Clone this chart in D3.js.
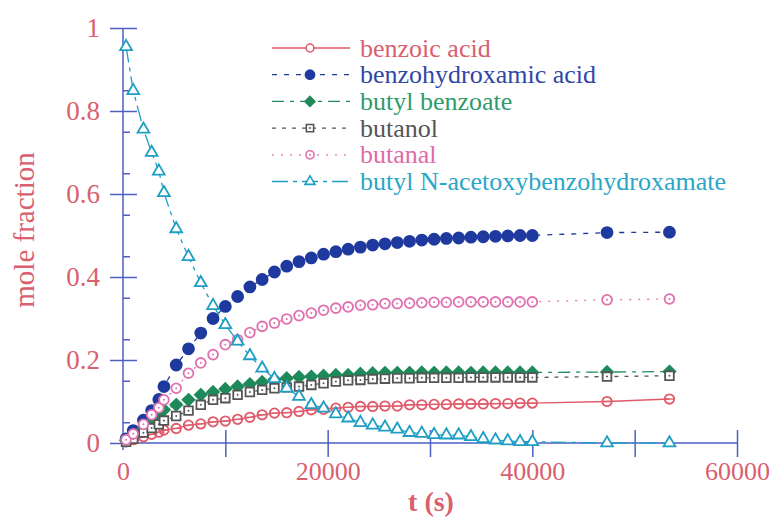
<!DOCTYPE html>
<html>
<head>
<meta charset="utf-8">
<script src="https://cdn.jsdelivr.net/npm/d3@7"></script>
<style>
  body { margin: 0; background: #fff; }
  svg { display: block; font-family: "Liberation Serif", "Times New Roman", serif; }
</style>
</head>
<body>
<svg id="chart" width="774" height="524"></svg>
<script>
// time points (s)
const times = [300, 1000, 2000, 2800, 3500, 4000, 5200, 6400, 7600, 8800, 10000, 11200, 12400,
  13600, 14800, 16000, 17200, 18400, 19600, 20800, 22000, 23200, 24400, 25600, 26800, 28000,
  29200, 30400, 31600, 32800, 34000, 35200, 36400, 37600, 38800, 40000, 47300, 53400];

// mole fractions
const benzoicAcid = [0.003, 0.008, 0.015, 0.021, 0.026, 0.031, 0.035, 0.043, 0.046, 0.051, 0.053,
  0.057, 0.062, 0.068, 0.072, 0.073, 0.076, 0.080, 0.081, 0.084, 0.086, 0.088, 0.088, 0.089, 0.089,
  0.092, 0.092, 0.093, 0.093, 0.094, 0.094, 0.094, 0.095, 0.095, 0.096, 0.096, 0.100, 0.106];
const benzohydroxamicAcid = [0.010, 0.030, 0.055, 0.078, 0.105, 0.136, 0.188, 0.227, 0.265, 0.300,
  0.329, 0.353, 0.376, 0.394, 0.412, 0.426, 0.437, 0.446, 0.455, 0.461, 0.467, 0.472, 0.477, 0.480,
  0.483, 0.486, 0.489, 0.491, 0.493, 0.494, 0.496, 0.497, 0.498, 0.499, 0.500, 0.500, 0.507, 0.508];
const butylBenzoate = [0.006, 0.018, 0.035, 0.050, 0.065, 0.080, 0.092, 0.104, 0.116, 0.123, 0.130,
  0.136, 0.142, 0.147, 0.153, 0.156, 0.159, 0.160, 0.162, 0.164, 0.164, 0.167, 0.168, 0.169, 0.169,
  0.169, 0.170, 0.169, 0.170, 0.170, 0.169, 0.170, 0.170, 0.170, 0.170, 0.170, 0.171, 0.172];
const butanol = [0.003, 0.010, 0.025, 0.036, 0.045, 0.054, 0.065, 0.078, 0.092, 0.104, 0.108, 0.116,
  0.123, 0.128, 0.132, 0.134, 0.136, 0.140, 0.144, 0.148, 0.151, 0.152, 0.154, 0.155, 0.156, 0.156,
  0.157, 0.157, 0.157, 0.157, 0.158, 0.158, 0.158, 0.158, 0.158, 0.158, 0.160, 0.162];
const butanal = [0.008, 0.022, 0.045, 0.068, 0.085, 0.104, 0.132, 0.168, 0.193, 0.213, 0.237, 0.249,
  0.266, 0.281, 0.289, 0.299, 0.307, 0.313, 0.320, 0.325, 0.328, 0.332, 0.333, 0.336, 0.336, 0.337,
  0.338, 0.339, 0.339, 0.340, 0.340, 0.340, 0.340, 0.340, 0.340, 0.340, 0.345, 0.347];
const butylNAcetoxy = [0.955, 0.849, 0.756, 0.700, 0.655, 0.603, 0.516, 0.449, 0.386, 0.331, 0.285,
  0.245, 0.210, 0.180, 0.155, 0.132, 0.112, 0.092, 0.084, 0.070, 0.060, 0.049, 0.043, 0.038, 0.033,
  0.025, 0.023, 0.020, 0.019, 0.019, 0.015, 0.010, 0.007, 0.005, 0.003, 0.003, 0.000, 0.000];

const seriesNames = ["benzoic acid", "benzohydroxamic acid", "butyl benzoate", "butanol", "butanal",
  "butyl N-acetoxybenzohydroxamate"];
const xTickLabels = [0, 20000, 40000, 60000];
const yTickLabels = [0, 0.2, 0.4, 0.6, 0.8, 1];

const axisColor = "#4d5fc2";
const labelColor = "#d9606e";

// wide diamond = square turned 45 degrees
const wideDiamond = {
  draw(context, size) {
    const r = Math.sqrt(size / 2);
    context.moveTo(0, -r);
    context.lineTo(r, 0);
    context.lineTo(0, r);
    context.lineTo(-r, 0);
    context.closePath();
  }
};

const series = [
  { name: seriesNames[0], values: benzoicAcid, color: "#e05a6a", text: "#d9606e",
    symbol: d3.symbolCircle, size: 70, fill: "none", dash: null, dot: false },
  { name: seriesNames[1], values: benzohydroxamicAcid, color: "#1f3a9e", text: "#3046a6",
    symbol: d3.symbolCircle, size: 95, fill: "#1f3a9e", dash: "5,7", dot: false },
  { name: seriesNames[2], values: butylBenzoate, color: "#1e8a5a", text: "#2f9a6a",
    symbol: wideDiamond, size: 70, fill: "#1e8a5a", dash: "12,6,4,6", dot: false },
  { name: seriesNames[3], values: butanol, color: "#555555", text: "#555555",
    symbol: d3.symbolSquare, size: 75, fill: "#fff", dash: "4,6", dot: true },
  { name: seriesNames[4], values: butanal, color: "#e070b0", text: "#e06aa8",
    symbol: d3.symbolCircle, size: 75, fill: "#fff", dash: "2,7", dot: true },
  { name: seriesNames[5], values: butylNAcetoxy, color: "#1f9ec4", text: "#2aa6c8",
    symbol: d3.symbolTriangle, size: 60, fill: "#fff", dash: "16,5,4,5", dot: false }
];

const svg = d3.select("#chart");

const x = d3.scaleLinear().domain([0, 60000]).range([123, 737]);
const y = d3.scaleLinear().domain([0, 1]).range([443, 28]);

// axes lines
svg.append("line").attr("x1", x(0)).attr("x2", x(0)).attr("y1", y(1)).attr("y2", 450)
  .attr("stroke", axisColor).attr("stroke-width", 1.5);
svg.append("line").attr("x1", x(0)).attr("x2", x(60000)).attr("y1", y(0)).attr("y2", y(0))
  .attr("stroke", axisColor).attr("stroke-width", 1.5);

// y major ticks cross the axis
const yMajor = svg.append("g").attr("transform", `translate(${x(0)},0)`)
  .call(d3.axisLeft(y).tickValues(yTickLabels).tickSize(13).tickSizeOuter(0).tickFormat(""));
yMajor.select(".domain").remove();
yMajor.selectAll("line").attr("x1", 14).attr("stroke", axisColor).attr("stroke-width", 1.5);

// y minor ticks
const yMinor = svg.append("g").attr("transform", `translate(${x(0)},0)`)
  .call(d3.axisRight(y).tickValues(d3.range(0.05, 1, 0.1)).tickSize(7).tickFormat(""));
yMinor.select(".domain").remove();
yMinor.selectAll("line").attr("stroke", axisColor).attr("stroke-width", 1.5);

// y labels
const yLab = svg.append("g").attr("transform", `translate(${x(0)},0)`)
  .call(d3.axisLeft(y).tickValues(yTickLabels).tickSize(0).tickPadding(23)
    .tickFormat(d => d3.format("~g")(d)));
yLab.select(".domain").remove();
yLab.selectAll("text").attr("fill", labelColor).style("font-size", "27px")
  .style("font-family", "Liberation Serif, serif");

// x ticks cross the axis
const xMajor = svg.append("g").attr("transform", `translate(0,${y(0)})`)
  .call(d3.axisBottom(x).tickValues([10000, 20000, 30000, 40000, 50000, 60000])
    .tickSize(14).tickSizeOuter(0).tickFormat(""));
xMajor.select(".domain").remove();
xMajor.selectAll("line").attr("y1", -13).attr("stroke", axisColor).attr("stroke-width", 1.5);

const xLab = svg.append("g").attr("transform", `translate(0,${y(0)})`)
  .call(d3.axisBottom(x).tickValues(xTickLabels).tickSize(0).tickPadding(19).tickFormat(d3.format("d")));
xLab.select(".domain").remove();
xLab.selectAll("text").attr("fill", labelColor).style("font-size", "26px")
  .style("font-family", "Liberation Serif, serif");

// axis titles
svg.append("text")
  .attr("transform", "translate(34,230) rotate(-90)")
  .attr("text-anchor", "middle")
  .attr("fill", labelColor)
  .style("font-size", "29px")
  .text("mole fraction");

svg.append("text")
  .attr("x", 431).attr("y", 511)
  .attr("text-anchor", "middle")
  .attr("fill", labelColor)
  .style("font-size", "28px")
  .style("font-weight", "bold")
  .text("t (s)");

// lines and markers
const line = d3.line().x(d => x(d.t)).y(d => y(d.v));

series.forEach(s => {
  const pts = times.map((t, i) => ({ t: t, v: s.values[i] }));
  svg.append("path")
    .datum(pts)
    .attr("fill", "none")
    .attr("stroke", s.color)
    .attr("stroke-width", 1.3)
    .attr("stroke-dasharray", s.dash)
    .attr("d", line);

  const g = svg.append("g");
  g.selectAll("path")
    .data(pts)
    .join("path")
    .attr("transform", d => `translate(${x(d.t)},${y(d.v)})`)
    .attr("d", d3.symbol().type(s.symbol).size(s.size))
    .attr("fill", s.fill)
    .attr("stroke", s.color)
    .attr("stroke-width", 1.8);
  if (s.dot) {
    g.selectAll("circle")
      .data(pts)
      .join("circle")
      .attr("cx", d => x(d.t)).attr("cy", d => y(d.v)).attr("r", 1)
      .attr("fill", s.color);
  }
  if (s.fill === "none") {
    // line through the open circle
    g.selectAll("line")
      .data(pts)
      .join("line")
      .attr("x1", d => x(d.t) - 5).attr("x2", d => x(d.t) + 5)
      .attr("y1", d => y(d.v)).attr("y2", d => y(d.v))
      .attr("stroke", s.color).attr("stroke-width", 1.3);
  }
});

// legend
const legend = svg.append("g").attr("transform", "translate(272,48)");
series.forEach((s, i) => {
  const row = legend.append("g").attr("transform", `translate(0,${i * 26.7})`);
  row.append("line").attr("x1", 0).attr("x2", 78).attr("y1", 0).attr("y2", 0)
    .attr("stroke", s.color).attr("stroke-width", 1.3).attr("stroke-dasharray", s.dash);
  row.append("path")
    .attr("transform", "translate(38,0)")
    .attr("d", d3.symbol().type(s.symbol).size(s.size * 0.7))
    .attr("fill", s.fill === "none" ? "#fff" : s.fill)
    .attr("stroke", s.color).attr("stroke-width", 1.6);
  if (s.dot) row.append("circle").attr("cx", 38).attr("r", 1).attr("fill", s.color);
  row.append("text")
    .attr("x", 88).attr("y", 8.5)
    .attr("fill", s.text)
    .style("font-size", "26px")
    .text(s.name);
});
</script>
</body>
</html>
